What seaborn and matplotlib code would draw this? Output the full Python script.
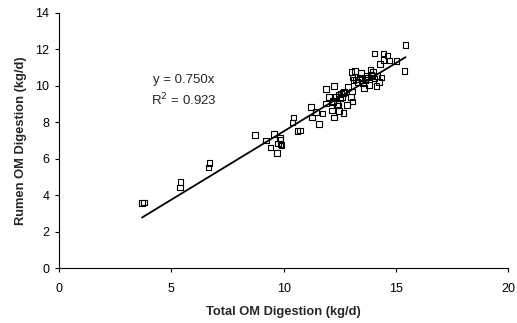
import matplotlib
matplotlib.use("Agg")
import matplotlib.pyplot as plt
import seaborn as sns
import numpy as np
import pandas as pd

total_om = [3.70, 3.79, 5.38, 5.41, 6.66, 6.71, 8.73, 9.22, 9.41, 9.58, 9.71, 9.74,
            9.83, 9.87, 9.87, 9.90, 10.39, 10.44, 10.62, 10.72, 11.21, 11.26, 11.45,
            11.57, 11.73, 11.90, 12.01, 11.88, 12.16, 12.19, 12.25, 12.25, 12.31,
            12.37, 12.43, 12.46, 12.46, 12.55, 12.59, 12.64, 12.67, 12.70, 12.83,
            12.88, 13.00, 13.04, 13.07, 13.03, 13.07, 13.12, 13.19, 13.23, 13.29,
            13.38, 13.44, 13.49, 13.53, 13.59, 13.62, 13.65, 13.71, 13.80, 13.86,
            13.93, 13.98, 14.04, 14.13, 14.16, 14.26, 14.29, 14.35, 14.44, 14.45,
            14.62, 14.71, 15.03, 15.39, 15.43, 13.75, 13.90, 14.05, 12.20, 12.50]
rumen_om = [3.58, 3.61, 4.42, 4.71, 5.51, 5.77, 7.30, 7.01, 6.61, 7.36, 6.32, 6.84,
            7.14, 7.03, 6.79, 6.75, 7.99, 8.25, 7.52, 7.56, 8.85, 8.25, 8.56,
            7.90, 8.47, 9.84, 9.40, 9.03, 8.65, 9.16, 10.00, 8.25, 9.40,
            9.00, 8.92, 8.61, 9.53, 9.58, 9.40, 9.62, 8.50, 9.66, 8.96,
            9.95, 9.40, 9.69, 9.14, 10.77, 10.46, 10.31, 10.82, 10.35, 10.20,
            10.46, 10.71, 10.31, 10.13, 9.89, 10.46, 10.31, 10.53, 10.06, 10.90,
            10.53, 10.77, 11.77, 10.00, 10.53, 10.22, 11.19, 10.46, 11.77, 11.41,
            11.66, 11.39, 11.35, 10.80, 12.25, 10.45, 10.60, 10.40, 9.10, 9.30]
slope = 0.750
r_squared = 0.923
x_ticks = [0, 5, 10, 15, 20]
y_ticks = [0, 2, 4, 6, 8, 10, 12, 14]

sns.set_theme(style="white")
plt.rcParams["font.family"] = ["Liberation Sans", "DejaVu Sans"]

fig = plt.figure(figsize=(5.17, 3.23), dpi=100)
ax = fig.add_axes([0.114, 0.170, 0.869, 0.790])

df = pd.DataFrame({"x": total_om, "y": rumen_om})
sns.scatterplot(data=df, x="x", y="y", marker="s", s=16, facecolor="none",
                edgecolor="black", linewidth=0.8, ax=ax, zorder=3)

xl = np.array([min(total_om), max(total_om)])
line_df = pd.DataFrame({"x": xl, "y": slope * xl})
sns.lineplot(data=line_df, x="x", y="y", color="black", linewidth=1.3, ax=ax, zorder=2)

ax.set_xlim(0, 20)
ax.set_ylim(0, 14)
ax.set_xticks(x_ticks)
ax.set_yticks(y_ticks)
ax.tick_params(axis="both", which="major", direction="out", length=3, width=0.8,
               color="black", labelsize=9, pad=4, labelcolor="black",
               bottom=True, left=True)
ax.tick_params(axis="x", pad=8)
for s in ["top", "right"]:
    ax.spines[s].set_visible(False)
for s in ["left", "bottom"]:
    ax.spines[s].set_color("black")
    ax.spines[s].set_linewidth(0.8)

ax.set_xlabel("Total OM Digestion (kg/d)", fontsize=9.3, fontweight="bold", labelpad=8)
ax.set_ylabel("Rumen OM Digestion (kg/d)", fontsize=9.3, fontweight="bold", labelpad=6)

ax.text(4.2, 10.3, f"y = {slope:.3f}x", fontsize=9.5, ha="left", va="center")
ax.text(4.1, 9.2, f"R$^2$ = {r_squared:.3f}", fontsize=9.5, ha="left", va="center")

fig.savefig("out.png", dpi=100)
